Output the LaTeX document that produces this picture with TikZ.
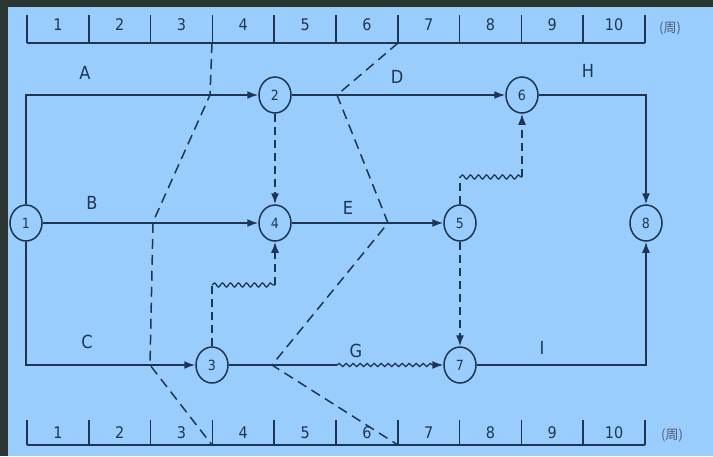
\documentclass[tikz,border=0pt]{standalone}
\usepackage{fontspec}
\setmainfont{DejaVu Sans Condensed}
\newfontfamily\cjk{Noto Sans CJK SC}
\usetikzlibrary{shapes.geometric,arrows.meta,decorations.pathmorphing,calc}
\definecolor{bg}{RGB}{153,205,253}
\definecolor{frame}{RGB}{43,53,50}
\definecolor{ink}{RGB}{30,54,84}
\begin{document}
\begin{tikzpicture}[x=1pt,y=-1pt,
  ev/.style={ellipse, draw=ink, line width=1.5pt, minimum width=32pt, minimum height=36pt, inner sep=0pt, text=ink, font=\fontsize{14}{14}\selectfont},
  act/.style={draw=ink, line width=1.7pt, -{Latex[length=11pt,width=8pt]}},
  dum/.style={act, dash pattern=on 8pt off 5pt},
  wav/.style={draw=ink, line width=1.3pt, decorate, decoration={snake, segment length=8pt, amplitude=2pt}},
  wavarr/.style={draw=ink, line width=1.3pt, -{Latex[length=11pt,width=8pt]}, decorate, decoration={snake, segment length=7pt, amplitude=1.6pt, post length=10pt}},
  prog/.style={draw=ink, line width=1.5pt, dash pattern=on 10pt off 6pt},
  lab/.style={text=ink, font=\fontsize{18}{18}\selectfont},
  num/.style={text=ink, font=\fontsize{16}{16}\selectfont},
  unit/.style={text=ink!80, font=\cjk\fontsize{13}{13}\selectfont},
  scaleline/.style={draw=ink, line width=1.6pt}]
\fill[frame] (0,0) rectangle (713,456);
\fill[bg] (8,7) rectangle (713,456);
\useasboundingbox (0,0) rectangle (713,456);

% time scales
\foreach \k in {0,...,10}{
  \draw[scaleline] ({27+61.8*\k},15) -- ({27+61.8*\k},43);
  \draw[scaleline] ({27+61.8*\k},420) -- ({27+61.8*\k},445);
}
\draw[scaleline] (27,43) -- (645,43);
\draw[scaleline] (27,445) -- (645,445);
\foreach \k in {1,...,10}{
  \node[num] (t\k) at ({27+61.8*(\k-0.5)},25) {\k};
  \node[num] (b\k) at ({27+61.8*(\k-0.5)},433) {\k};
}
\node[unit] (ut) at (670,28) {(周)};
\node[unit] (ub) at (672,435) {(周)};

% event nodes
\node[ev] (n1) at (26,223) {1};
\node[ev] (n2) at (275,95) {2};
\node[ev] (n3) at (212,365) {3};
\node[ev] (n4) at (275,223) {4};
\node[ev] (n5) at (460,223) {5};
\node[ev] (n6) at (522,95) {6};
\node[ev] (n7) at (460,365) {7};
\node[ev] (n8) at (646,223) {8};

% activities
\draw[act] (n1) |- (n2);
\draw[act] (n1) -- (n4);
\draw[act] (n1) |- (n3);
\draw[act] (n2) -- (n6);
\draw[act] (n4) -- (n5);
\draw[act] (n6) -| (n8);
\draw[act] (n7) -| (n8);
\coordinate (g1) at (337,365);
\draw[draw=ink, line width=1.7pt] (n3) -- (g1);
\draw[wavarr] (g1) -- (n7);

% dummies with free float
\draw[dum] (n2) -- (n4);
\draw[dum] (n5) -- (n7);
\coordinate (w1) at (212,285);
\coordinate (w2) at (275,285);
\draw[draw=ink, line width=1.6pt, dash pattern=on 8pt off 5pt] (n3) -- (w1);
\draw[wav] (w1) -- (w2);
\draw[dum] (w2) -- (n4);
\coordinate (w3) at (460,177);
\coordinate (w4) at (522,177);
\draw[draw=ink, line width=1.6pt, dash pattern=on 8pt off 5pt] (n5) -- (w3);
\draw[wav] (w3) -- (w4);
\draw[dum] (w4) -- (n6);

% labels
\node[lab] (lA) at (85,73) {A};
\node[lab] (lB) at (92,203) {B};
\node[lab] (lC) at (87,342) {C};
\node[lab] (lD) at (397,77) {D};
\node[lab] (lE) at (348,208) {E};
\node[lab] (lG) at (356,351) {G};
\node[lab] (lH) at (588,71) {H};
\node[lab] (lI) at (542,348) {I};

% progress lines
\coordinate (p1a) at (212,43);
\coordinate (p1b) at (210,95);
\coordinate (p1c) at (153,222);
\coordinate (p1d) at (150,365);
\coordinate (p1e) at (212,445);
\draw[prog] (p1a) -- (p1b) -- (p1c) -- (p1d) -- (p1e);
\coordinate (p2a) at (398,43);
\coordinate (p2b) at (337,95);
\coordinate (p2c) at (388,223);
\coordinate (p2d) at (272,365);
\coordinate (p2e) at (398,445);
\draw[prog] (p2a) -- (p2b) -- (p2c) -- (p2d) -- (p2e);
\end{tikzpicture}
\end{document}
